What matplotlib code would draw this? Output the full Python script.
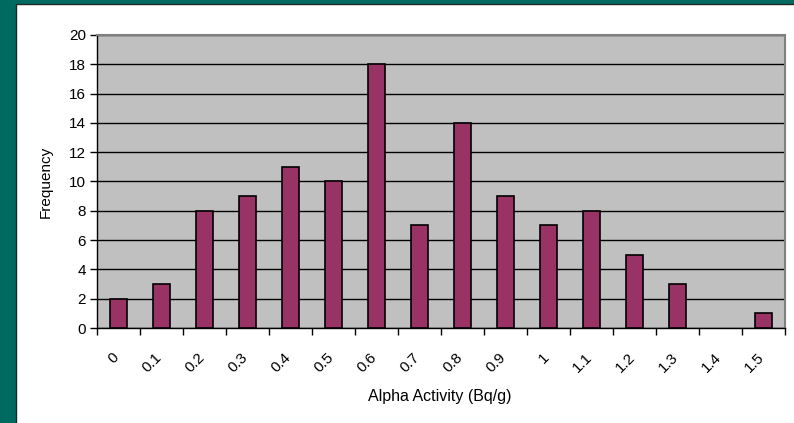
import matplotlib
matplotlib.use("Agg")
import matplotlib.pyplot as plt
from matplotlib.patches import Rectangle
import numpy as np

plt.rcParams['font.family'] = ['Liberation Sans', 'DejaVu Sans']

# histogram of alpha activity
bins = ['0', '0.1', '0.2', '0.3', '0.4', '0.5', '0.6', '0.7',
        '0.8', '0.9', '1', '1.1', '1.2', '1.3', '1.4', '1.5']
freq = [2, 3, 8, 9, 11, 10, 18, 7, 14, 9, 7, 8, 5, 3, 0, 1]

fig = plt.figure(figsize=(7.94, 4.23), dpi=100)
fig.patch.set_facecolor('#006a60')
# white sheet over the teal background
fig.patches.append(Rectangle((16/794, -0.01), 1.0, (423-4)/423 + 0.01,
                             transform=fig.transFigure, facecolor='white',
                             edgecolor='#1a2a28', lw=1.0, zorder=-5))

ax = fig.add_axes([97/794, (423-328)/423, (785-97)/794, (328-35)/423])
ax.set_zorder(2)
ax.set_facecolor('#c0c0c0')

x = np.arange(len(bins))
# empty bins get no outline
ax.bar(x, freq, width=0.4, color='#993366', edgecolor='black',
       lw=[1.2 if f else 0 for f in freq], zorder=3)

ax.set_xlim(-0.5, len(bins) - 0.5)
ax.set_ylim(0, 20)
ax.set_yticks(range(0, 21, 2))
ax.yaxis.grid(True, color='black', lw=1.0, zorder=1)
ax.set_axisbelow(True)

# tick marks sit between categories, labels just left of the centres
ax.set_xticks(np.arange(-0.5, len(bins)), minor=False)
ax.set_xticklabels([])
ax.set_xticks(x - 0.16, minor=True)
ax.set_xticklabels(bins, minor=True, rotation=45, ha='right', va='top',
                   rotation_mode='anchor', fontsize=11)
ax.tick_params(axis='x', which='minor', length=0, pad=16)
ax.tick_params(axis='x', which='major', length=5, direction='out', width=1)
ax.tick_params(axis='y', length=5, direction='out', width=1, labelsize=11, pad=3)

for s in ['top', 'right']:
    ax.spines[s].set_color('#808080')
    ax.spines[s].set_linewidth(1.5)
for s in ['left', 'bottom']:
    ax.spines[s].set_color('black')
    ax.spines[s].set_linewidth(1.0)

fig.text(440/794, 1 - 396/423, 'Alpha Activity (Bq/g)', ha='center', va='center', fontsize=11.5)
fig.text(46/794, 1 - 182/423, 'Frequency', ha='center', va='center', rotation=90, fontsize=11)

fig.savefig('out.png', dpi=100, facecolor=fig.get_facecolor())
